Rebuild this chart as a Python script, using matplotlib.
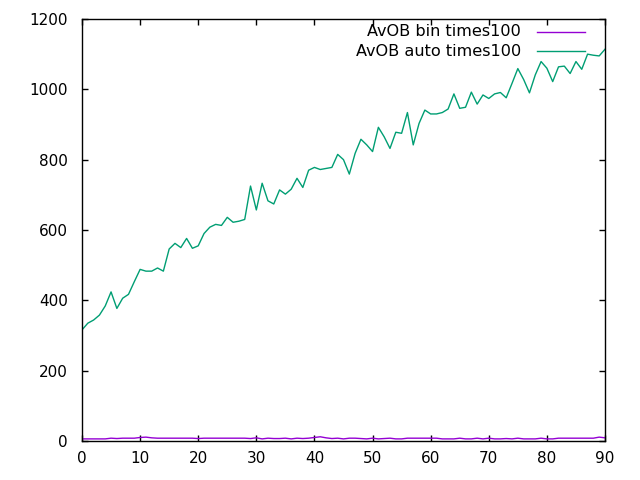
import matplotlib
matplotlib.use("Agg")
import matplotlib.pyplot as plt

x_values = list(range(0, 91))

bin_times100 = [6, 6, 6, 6, 6, 8, 7, 8, 8, 8, 10, 11, 9, 8, 8, 8, 8, 8, 8, 8,
                7, 8, 8, 8, 8, 8, 8, 8, 8, 7, 9, 6, 8, 7, 7, 8, 6, 8, 7, 8,
                10, 12, 9, 7, 8, 6, 8, 8, 7, 6, 8, 6, 7, 8, 6, 6, 8, 8, 8, 8,
                8, 8, 6, 6, 6, 8, 6, 6, 8, 6, 8, 6, 6, 7, 6, 8, 6, 6, 6, 8,
                6, 6, 8, 8, 8, 8, 8, 8, 8, 11, 9]

auto_times100 = [316, 335, 344, 358, 384, 424, 377, 406, 417, 453,
                 488, 483, 483, 492, 483, 546, 562, 550, 576, 548,
                 555, 590, 608, 616, 613, 636, 622, 625, 630, 725,
                 657, 733, 683, 674, 714, 702, 716, 747, 721, 770,
                 778, 772, 775, 778, 815, 800, 759, 818, 858, 842,
                 823, 892, 865, 832, 878, 875, 934, 842, 903, 941,
                 930, 930, 934, 944, 987, 946, 949, 992, 958, 984,
                 974, 987, 991, 976, 1017, 1059, 1028, 990, 1041, 1079,
                 1060, 1022, 1064, 1066, 1045, 1079, 1057, 1100, 1097, 1095,
                 1114]

labels = ["AvOB bin times100", "AvOB auto times100"]
colors = ["#9400d3", "#009e73"]

x_ticks = list(range(0, 91, 10))
y_ticks = list(range(0, 1201, 200))

fig = plt.figure(figsize=(6.4, 4.8), dpi=100)
ax = fig.add_axes([82/640, 1 - 441/480, (605 - 82)/640, (441 - 19)/480])

ax.plot(x_values, bin_times100, color=colors[0], lw=1.0)
ax.plot(x_values, auto_times100, color=colors[1], lw=1.0)

ax.set_xlim(0, 90)
ax.set_ylim(0, 1200)
ax.set_xticks(x_ticks)
ax.set_yticks(y_ticks)
ax.tick_params(direction="in", length=4.5, width=1, top=True, right=True,
               labelsize=11, colors="black")
ax.tick_params(axis="y", pad=10)
ax.tick_params(axis="x", pad=7)
for s in ax.spines.values():
    s.set_linewidth(1)
    s.set_color("black")

# gnuplot-style key: right-aligned text followed by line sample
rows_y = [32, 51]
for lab, col, py in zip(labels, colors, rows_y):
    yf = 1 - py/480
    fig.text(521/640, yf, lab, ha="right", va="center", fontsize=11.6, color="black")
    fig.add_artist(plt.Line2D([537/640, 585/640], [yf, yf], color=col, lw=1.0))

fig.savefig("out.png", dpi=100)
